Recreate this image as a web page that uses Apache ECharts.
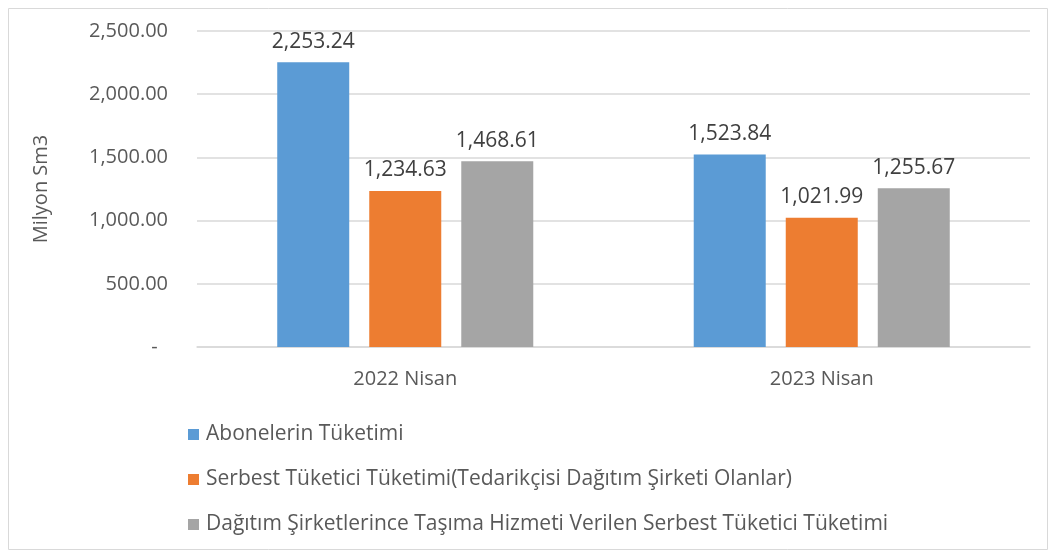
<!DOCTYPE html>
<html><head><meta charset="utf-8">
<script src="https://cdn.jsdelivr.net/npm/echarts@6/dist/echarts.min.js"></script>
<style>html,body{margin:0;padding:0;background:#fff}#c{width:1056px;height:559px}</style>
</head><body><div id="c"></div>
<script>
const categories = ["2022 Nisan", "2023 Nisan"];
const seriesNames = [
  "Abonelerin Tüketimi",
  "Serbest Tüketici Tüketimi(Tedarikçisi Dağıtım Şirketi Olanlar)",
  "Dağıtım Şirketlerince Taşıma Hizmeti Verilen Serbest Tüketici Tüketimi"
];
const abonelerin = [2253.24, 1523.84];
const serbest = [1234.63, 1021.99];
const dagitim = [1468.61, 1255.67];
const colors = ["#5B9BD5", "#ED7D31", "#A5A5A5"];
const FONT = "'Open Sans', 'Noto Sans', sans-serif";

function fmt(v){
  if (v === 0) return "-  ";
  return v.toLocaleString("en-US",{minimumFractionDigits:2, maximumFractionDigits:2});
}
const values = [abonelerin, serbest, dagitim];
const chart = echarts.init(document.getElementById('c'));
chart.setOption({
  animation:false,
  graphic:[{type:'rect',shape:{x:8.5,y:8.5,width:1039,height:541},style:{fill:'none',stroke:'#D9D9D9',lineWidth:1}}],
  grid:{left:197,right:26,top:31,bottom:212},
  legend:{
    orient:'vertical', left:183, top:415, itemGap:16, itemWidth:11, itemHeight:11,
    icon:'rect',
    textStyle:{fontFamily:FONT,fontSize:21,color:'#595959',padding:[0,0,0,2],lineHeight:29},
    data:seriesNames
  },
  xAxis:{type:'category',data:categories,
    axisLine:{lineStyle:{color:'#D9D9D9',width:1.5}},axisTick:{show:false},
    axisLabel:{fontFamily:FONT,fontSize:20,color:'#595959',margin:22}},
  yAxis:{type:'value',min:0,max:2500,interval:500,
    name:'Milyon Sm3',nameLocation:'middle',nameGap:146,nameRotate:90,
    nameTextStyle:{fontFamily:FONT,fontSize:20,color:'#595959'},
    axisLine:{show:false},axisTick:{show:false},
    splitLine:{lineStyle:{color:'#D9D9D9',width:1.5}},
    axisLabel:{fontFamily:FONT,fontSize:20,color:'#595959',margin:29,formatter:fmt}},
  series: values.map((d,i)=>({
    name:seriesNames[i],type:'bar',data:d,barWidth:72,barGap:'27.8%',
    itemStyle:{color:colors[i]},
    label:{show:true,position:'top',distance:10,fontFamily:FONT,fontSize:21,color:'#404040',
      formatter:p=>fmt(p.value)}
  }))
});
</script></body></html>
